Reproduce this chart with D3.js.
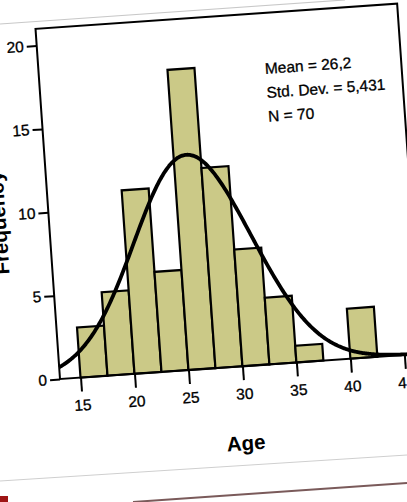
<!DOCTYPE html>
<html>
<head>
<meta charset="utf-8">
<script src="https://cdn.jsdelivr.net/npm/d3@7"></script>
<style>
  html, body { margin: 0; padding: 0; background: #fff; overflow: hidden; }
  text { font-family: "Liberation Sans", Arial, sans-serif; }
</style>
</head>
<body>
<script>
// histogram bins (Age, width 2.5) and counts
const binStarts = [15, 17.5, 20, 22.5, 25, 27.5, 30, 32.5, 35, 37.5, 40];
const counts = [3, 5, 11, 6, 18, 12, 7, 4, 1, 0, 3];
const binWidth = 2.5;
const xTicks = [15, 20, 25, 30, 35, 40, 45];
const yTicks = [0, 5, 10, 15, 20];
const statLines = ["Mean = 26,2", "Std. Dev. = 5,431", "N = 70"];
const mean = 26.2, sd = 5.431, n = 70;

const width = 407, height = 502;
const angle = -4; // the photographed page is slightly tilted

const svg = d3.select("body").append("svg")
  .attr("width", width)
  .attr("height", height);

// paper edges from the photo
svg.append("line").attr("x1", 0).attr("y1", 24).attr("x2", 345).attr("y2", 0)
  .attr("stroke", "#c8c8c8").attr("stroke-width", 1.2);
svg.append("line").attr("x1", 0).attr("y1", 481).attr("x2", 407).attr("y2", 455)
  .attr("stroke", "#cfcfcf").attr("stroke-width", 1.2);
svg.append("line").attr("x1", 133).attr("y1", 502).attr("x2", 407).attr("y2", 483)
  .attr("stroke", "#7a5a5a").attr("stroke-width", 2);
svg.append("rect").attr("x", 0).attr("y", 496).attr("width", 8).attr("height", 6)
  .attr("fill", "#9e1515");

const g = svg.append("g")
  .attr("transform", `translate(60,379) rotate(${angle})`);

const x = d3.scaleLinear().domain([13.1, 46.6]).range([0, 362.5]);
const y = d3.scaleLinear().domain([0, 21]).range([0, -351]);

// bars
g.append("g")
  .selectAll("rect")
  .data(binStarts.map((s, i) => ({ s, c: counts[i] })).filter(d => d.c > 0))
  .join("rect")
  .attr("x", d => x(d.s))
  .attr("y", d => y(d.c))
  .attr("width", d => x(d.s + binWidth) - x(d.s))
  .attr("height", d => y(0) - y(d.c))
  .attr("fill", "#cbc987")
  .attr("stroke", "#000")
  .attr("stroke-width", 2.2);

// normal curve from the stats
const scale = n * binWidth / (sd * Math.sqrt(2 * Math.PI));
const curvePts = d3.range(x.domain()[0], x.domain()[1] + 0.01, 0.1)
  .map(v => [v, scale * Math.exp(-0.5 * ((v - mean) / sd) ** 2)]);

g.append("path")
  .datum(curvePts)
  .attr("fill", "none")
  .attr("stroke", "#000")
  .attr("stroke-width", 3.8)
  .attr("d", d3.line().x(d => x(d[0])).y(d => y(d[1])).curve(d3.curveBasis));

// frame
g.append("rect")
  .attr("x", 0).attr("y", y(21))
  .attr("width", x.range()[1]).attr("height", -y(21))
  .attr("fill", "none").attr("stroke", "#000").attr("stroke-width", 2);

// axes
const xAxis = g.append("g")
  .call(d3.axisBottom(x).tickValues(xTicks).tickSize(14).tickPadding(8).tickFormat(d3.format("d")));
xAxis.select(".domain").remove();
xAxis.selectAll("line").attr("stroke-width", 2);
xAxis.selectAll("text").attr("font-size", 15.5).attr("fill", "#000")
  .attr("stroke", "#000").attr("stroke-width", 0.3)
  .style("font-family", "Liberation Sans, Arial, sans-serif");

const yAxis = g.append("g")
  .call(d3.axisLeft(y).tickValues(yTicks).tickSize(10).tickPadding(3).tickFormat(d3.format("d")));
yAxis.select(".domain").remove();
yAxis.selectAll("line").attr("stroke-width", 2);
yAxis.selectAll("text").attr("font-size", 15.5).attr("fill", "#000")
  .attr("stroke", "#000").attr("stroke-width", 0.3)
  .style("font-family", "Liberation Sans, Arial, sans-serif");

// axis titles
g.append("text")
  .attr("x", x.range()[1] / 2).attr("y", 84)
  .attr("text-anchor", "middle")
  .attr("font-size", 20.5).attr("font-weight", "bold")
  .text("Age");

g.append("text")
  .attr("transform", "translate(-43,-160) rotate(-90)")
  .attr("text-anchor", "middle")
  .attr("font-size", 20.5).attr("font-weight", "bold")
  .text("Frequency");

// stats box
g.append("g")
  .selectAll("text")
  .data(statLines)
  .join("text")
  .attr("x", 226)
  .attr("y", (d, i) => -290 + i * 24)
  .attr("font-size", 15.5)
  .attr("stroke", "#000").attr("stroke-width", 0.3)
  .text(d => d);
</script>
</body>
</html>
